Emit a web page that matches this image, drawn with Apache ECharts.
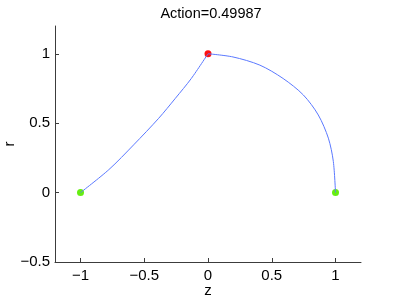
<!DOCTYPE html>
<html>
  <head>
    <meta charset="utf-8" />
    <title>Action</title>
    <script src="https://cdn.jsdelivr.net/npm/echarts@6/dist/echarts.min.js"></script>
    <style type="text/css">
      * {
        margin: 0px;
        padding: 0px;
      }
      body {
        background-color: #fff;
      }
    </style>
  </head>
  <body>
    <div id="main" style="width: 399px; height: 299px"></div>
  </body>
</html>
<script>
  // 读图得到的曲线点 (z, r)
  const leftZ = [-1, -0.778, -0.583, -0.387, -0.256, -0.131, 0];
  const leftR = [0, 0.165, 0.344, 0.535, 0.679, 0.822, 1];
  const rightZ = [0, 0.196, 0.407, 0.589, 0.748, 0.865, 0.944, 0.983, 1];
  const rightR = [1, 0.977, 0.918, 0.822, 0.703, 0.559, 0.392, 0.224, 0];
  const endZ = [-1, 1];
  const endR = [0, 0];
  const peakZ = [0];
  const peakR = [1];
  const zTicks = [-1, -0.5, 0, 0.5, 1];
  const rTicks = [-0.5, 0, 0.5, 1];
  const titleText = "Action=0.49987";

  function pairs(xs, ys) {
    let out = [];
    for (let i = 0; i < xs.length; i++) {
      out.push([xs[i], ys[i]]);
    }
    return out;
  }

  function fmt(v) {
    return String(v).replace("-", "\u2212");
  }

  let font = "Liberation Sans";
  let axisColor = "#3c3c3c";

  let myChart = echarts.init(document.getElementById("main"));

  let option = {
    animation: false,
    title: {
      text: titleText,
      left: 206,
      top: 1,
      textAlign: "center",
      textStyle: { fontFamily: font, fontSize: 14.5, fontWeight: "normal", color: "#000" },
    },
    grid: {
      left: 55,
      right: 38,
      top: 26,
      bottom: 37,
      outerBoundsMode: "none",
      containLabel: false,
    },
    xAxis: {
      type: "value",
      min: -1.2,
      max: 1.2,
      name: "z",
      nameLocation: "middle",
      nameGap: 21,
      nameMoveOverlap: false,
      nameTextStyle: { fontFamily: font, fontSize: 15, color: "#000" },
      splitLine: { show: false },
      axisLine: { onZero: false, lineStyle: { color: axisColor, width: 1 } },
      axisTick: { inside: true, length: 4, customValues: zTicks, lineStyle: { color: axisColor } },
      axisLabel: {
        customValues: zTicks,
        formatter: fmt,
        margin: 6,
        fontFamily: font,
        fontSize: 15,
        color: "#000",
      },
    },
    yAxis: {
      type: "value",
      min: -0.5,
      max: 1.2,
      name: "r",
      nameLocation: "middle",
      nameGap: 38,
      nameRotate: 90,
      nameMoveOverlap: false,
      nameTextStyle: { fontFamily: font, fontSize: 15, color: "#000" },
      splitLine: { show: false },
      axisLine: { show: true, onZero: false, lineStyle: { color: axisColor, width: 1 } },
      axisTick: { show: true, inside: true, length: 4, customValues: rTicks, lineStyle: { color: axisColor } },
      axisLabel: {
        customValues: rTicks,
        formatter: fmt,
        margin: 5,
        fontFamily: font,
        fontSize: 15,
        color: "#000",
      },
    },
    series: [
      {
        type: "line",
        data: pairs(leftZ, leftR),
        smooth: 0.3,
        showSymbol: false,
        lineStyle: { color: "#5a78ff", width: 1 },
      },
      {
        type: "line",
        data: pairs(rightZ, rightR),
        smooth: 0.3,
        showSymbol: false,
        lineStyle: { color: "#5a78ff", width: 1 },
      },
      {
        type: "scatter",
        data: pairs(endZ, endR),
        symbolSize: 7,
        itemStyle: { color: "#66ee11", opacity: 1 },
      },
      {
        type: "scatter",
        data: pairs(peakZ, peakR),
        symbolSize: 7,
        itemStyle: { color: "#ff1010", opacity: 1 },
      },
    ],
  };

  myChart.setOption(option);
</script>
